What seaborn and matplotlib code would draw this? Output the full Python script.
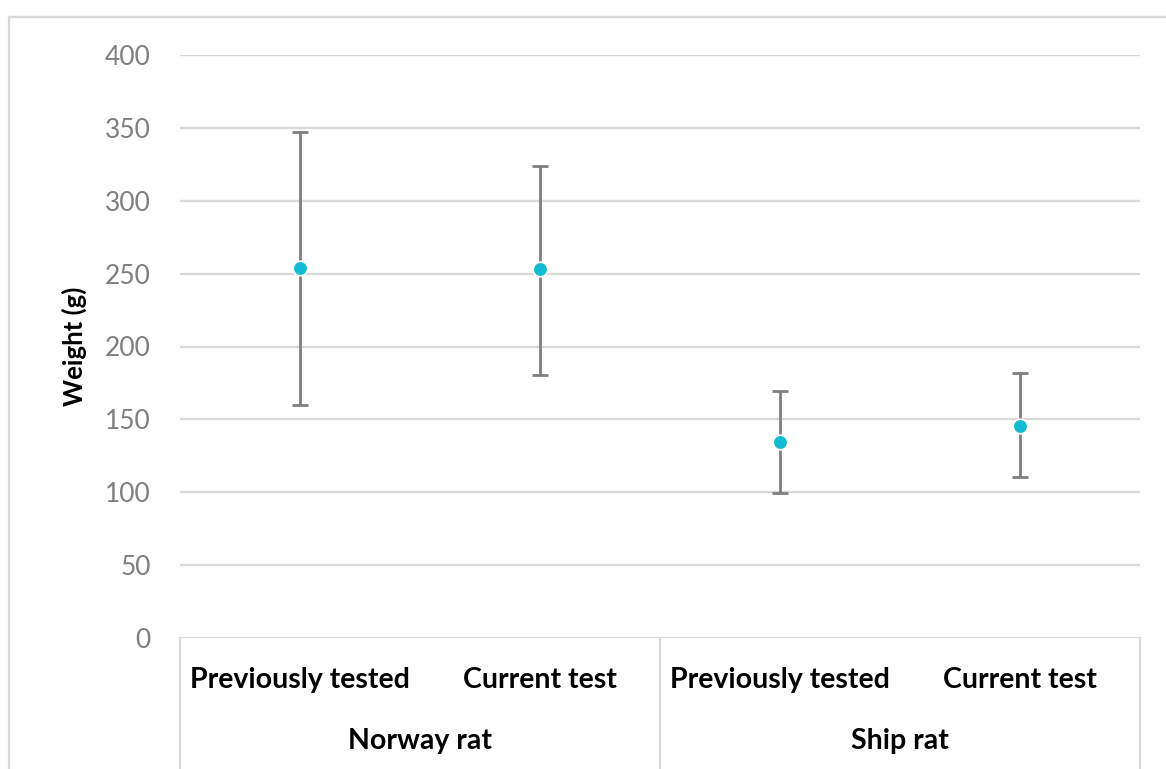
import matplotlib
matplotlib.use("Agg")
import matplotlib.pyplot as plt
import matplotlib.patches as mpatches
import pandas as pd
import seaborn as sns

# Data
species = ["Norway rat", "Norway rat", "Ship rat", "Ship rat"]
tests = ["Previously tested", "Current test", "Previously tested", "Current test"]
mean_weight = [253.6, 253.0, 134.8, 145.2]
upper = [347.4, 324.0, 169.8, 181.5]
lower = [160.1, 180.7, 99.6, 110.4]
groups = ["Norway rat", "Ship rat"]
yticks = [0, 50, 100, 150, 200, 250, 300, 350, 400]

df = pd.DataFrame({"species": species, "test": tests, "weight": mean_weight,
                   "upper": upper, "lower": lower})
df["key"] = df["species"] + " | " + df["test"]

sns.set_theme(style="white")
plt.rcParams["font.family"] = ["Lato", "DejaVu Sans"]

fig = plt.figure(figsize=(11.66, 7.69), dpi=100)
ax = fig.add_axes([180 / 1166, 131 / 769, 960 / 1166, 583 / 769])

grid_col = "#d9d9d9"
for t in yticks:
    ax.axhline(t, color=grid_col, lw=1.7, zorder=0)

# error bars
pos = list(range(len(df)))
ax.errorbar(pos, df["weight"],
            yerr=[df["weight"] - df["lower"], df["upper"] - df["weight"]],
            fmt="none", ecolor="#7f7f7f", elinewidth=2, capsize=6, capthick=2, zorder=2)

sns.scatterplot(data=df, x="key", y="weight", ax=ax, color="#12bcd4", s=110,
                edgecolor="white", linewidth=1.2, zorder=3, legend=False)

ax.set_xlim(-0.5, 3.5)
ax.set_ylim(0, 400)
ax.set_yticks(yticks)
ax.set_yticklabels([str(t) for t in yticks], fontsize=19, color="#7f7f7f")
ax.tick_params(axis="y", length=0, pad=21)
ax.set_xticks([])
ax.set_xlabel("")
ax.set_ylabel("Weight (g)", fontsize=18.5, fontweight="bold", color="black")
ax.yaxis.set_label_coords(-0.097, 0.5)
for s in ax.spines.values():
    s.set_visible(False)

# multi-level category axis
for xf in [0, 0.5, 1.0]:
    ax.plot([xf, xf], [0, -0.26], transform=ax.transAxes, color=grid_col, lw=1.7,
            clip_on=False)
for i, t in enumerate(tests):
    ax.text((i + 0.5) / 4, -0.072, t, transform=ax.transAxes, ha="center", va="center",
            fontsize=20.5, fontweight="bold", color="black")
for j, g in enumerate(groups):
    ax.text((j + 0.5) / 2, -0.177, g, transform=ax.transAxes, ha="center", va="center",
            fontsize=20.5, fontweight="bold", color="black")

# outer chart border
fig.patches.append(mpatches.Rectangle((9 / 1166, -0.1), 1.2, 1.1 - 17 / 769,
                                      transform=fig.transFigure, fill=False,
                                      edgecolor=grid_col, lw=1.7))

fig.savefig("out.png", dpi=100)
